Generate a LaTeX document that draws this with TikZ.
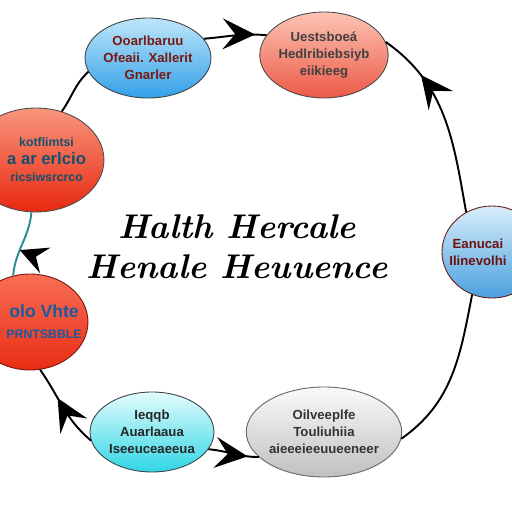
\documentclass[tikz,border=0pt]{standalone}
\usepackage{fontspec}
\setsansfont{Liberation Sans}
\usetikzlibrary{arrows.meta,decorations.markings,shapes.geometric}
\definecolor{tealline}{HTML}{2A8A9A}
\definecolor{aTop}{HTML}{BEE6FA}
\definecolor{aBot}{HTML}{32A0E8}
\definecolor{aTxt}{HTML}{78190F}
\definecolor{bTop}{HTML}{FCC4B4}
\definecolor{bBot}{HTML}{EC5846}
\definecolor{cTop}{HTML}{F9967D}
\definecolor{cBot}{HTML}{E8280F}
\definecolor{cTxt}{HTML}{14506E}
\definecolor{eTop}{HTML}{F86E55}
\definecolor{eBot}{HTML}{E82D14}
\definecolor{eTxt}{HTML}{195AA0}
\definecolor{eBrd}{HTML}{78140A}
\definecolor{fTop}{HTML}{E4FCFC}
\definecolor{fBot}{HTML}{30D6E6}
\definecolor{gTop}{HTML}{FAFAFA}
\definecolor{gBot}{HTML}{C0C0C0}
\definecolor{dTop}{HTML}{D8EEFA}
\definecolor{dBot}{HTML}{4AA0E0}
\definecolor{dTxt}{HTML}{6E1010}
\definecolor{dBrd}{HTML}{6E1919}
\newcommand{\shiftline}[2]{\makebox[0pt][c]{\hspace*{#1}#2}}
\begin{document}
\begin{tikzpicture}[x=0.02cm,y=0.02cm,
  bub/.style={ellipse, draw=#1, line width=0.5pt, inner sep=0pt, align=center,
    font=\sffamily\bfseries\fontsize{7.5}{9.8}\selectfont},
  link/.style={line width=1.1pt, draw=black},
  fwd/.style={postaction={decorate}, decoration={markings, mark=at position #1 with {\arrow{Stealth[length=6.5mm,width=6.2mm,inset=2.5mm]}}}},
  rev/.style={postaction={decorate}, decoration={markings, mark=at position #1 with {\arrowreversed{Stealth[length=6.5mm,width=6.2mm,inset=2.5mm]}}}},
  side/.style={postaction={decorate}, decoration={markings, mark=at position #1 with {\pgftransformrotate{-90}\arrow[black]{Stealth[length=5.5mm,width=5.5mm,inset=2mm]}}}}
]
\useasboundingbox (0,0) rectangle (512,512);
\fill[white] (0,0) rectangle (512,512);

\coordinate (cA) at (148,454);
\coordinate (cB) at (324,457);
\coordinate (cC) at (36,352);
\coordinate (cE) at (30,190);
\coordinate (cF) at (152,80);
\coordinate (cG) at (324,80);
\coordinate (cD) at (492,260);

\node[bub=black!75, minimum width=2.44cm, minimum height=1.6cm, top color=aTop, bottom color=aBot, text=aTxt] (A) at (cA) {Ooarlbaruu\\Ofeaii. Xallerit\\Gnarler};
\node[bub=black!70, minimum width=2.48cm, minimum height=1.72cm, top color=bTop, bottom color=bBot, text=black!75] (B) at (cB) {Uestsboeá\\Hedlribiebsiyb\\eiikieeg};
\node[bub=black!70, minimum width=2.72cm, minimum height=2.08cm, top color=cTop, bottom color=cBot, text=cTxt, font=\sffamily\bfseries\fontsize{7}{10}\selectfont] (C) at (cC) {\shiftline{12pt}{kotflimtsi}\\\shiftline{12pt}{\fontsize{9.5}{12}\selectfont a ar erlcio}\\\shiftline{12pt}{ricsiwsrcrco}};
\node[bub=eBrd, minimum width=2.32cm, minimum height=1.92cm, top color=eTop, bottom color=eBot, text=eTxt, font=\sffamily\bfseries\fontsize{7}{12}\selectfont] (E) at (cE) {\shiftline{16pt}{\fontsize{10}{12}\selectfont olo Vhte}\\\shiftline{16pt}{PRNTSBBLE}};
\node[bub=black!75, minimum width=2.48cm, minimum height=1.6cm, top color=fTop, bottom color=fBot, text=black!85] (F) at (cF) {Ieqqb\\Auarlaaua\\Iseeuceaeeua};
\node[bub=black!60, minimum width=2.4cm, minimum height=1.8cm, top color=gTop, bottom color=gBot, text=black!80] (G) at (cG) {Oilveeplfe\\Touliuhiia\\aieeeieeuueeneer};
\node[bub=dBrd, minimum width=2.0cm, minimum height=1.84cm, top color=dTop, bottom color=dBot, text=dTxt] (D) at (cD) {\shiftline{-16pt}{Eanucai}\\\shiftline{-16pt}{Ilinevolhi}};

\draw[link, fwd=0.82] (A.19) to[out=5, in=175] (B.161);
\draw[link, rev=0.25] (B.12) to[out=-35, in=100] (D.123);
\draw[link] (D.245) to[out=-101, in=35] (G.355);
\draw[link, rev=0.22] (G.201) to[out=180, in=-5] (F.343);
\draw[link, fwd=0.62] (F.188) to[out=140, in=-55] (E.282);
\draw[link, draw=tealline, side=0.6] (C.265) to[out=-95, in=85] (E.110);
\draw[link] (C.62) to[out=55, in=223] (A.193);

\node[font=\bfseries\itshape\fontsize{19.5}{23}\selectfont, align=center] (T) at (237,265) {Halth Hercale\\Henale Heuuence};
\end{tikzpicture}
\end{document}
